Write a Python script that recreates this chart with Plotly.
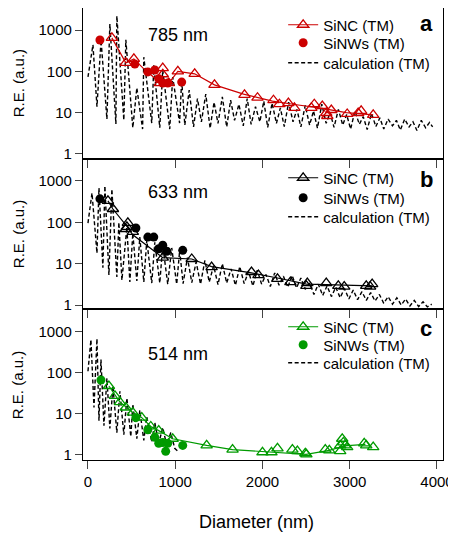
import plotly.graph_objects as go
from plotly.subplots import make_subplots

FONT = "Liberation Sans, Arial, Helvetica, sans-serif"
RED = "#cc0000"
GREEN = "#009a00"
BLACK = "#000000"

# ---- panel a: 785 nm ----
calc_a_x = [0, 57, 103, 150, 217, 251, 320, 331, 411, 434, 514, 560, 626, 640, 731, 754,
            823, 857, 937, 971, 1050, 1074,
            1110, 1160, 1210, 1255, 1300, 1350, 1400, 1445, 1490, 1540, 1590, 1635, 1680,
            1730, 1780, 1825, 1870, 1920, 1970, 2015, 2060, 2110, 2160, 2205, 2250, 2300,
            2350, 2395, 2440, 2490, 2540, 2585, 2630, 2680, 2730, 2775, 2820, 2870, 2920,
            2965, 3010, 3060, 3110, 3155, 3200, 3250, 3300, 3345, 3390, 3440, 3490, 3535,
            3580, 3630, 3680, 3725, 3770, 3820, 3870, 3915, 3950]
calc_a_y = [73, 440, 14, 570, 7, 1400, 5.3, 2200, 6.6, 580, 4.3, 40, 4, 220, 5.6, 140,
            4.3, 108, 4, 73, 5.6, 62,
            5, 35, 4.5, 22, 6, 28, 4.2, 18, 5.5, 24, 4.5, 20, 6.5,
            16, 4.8, 22, 5.2, 14, 6, 19, 4.4, 17, 5.5, 13, 4.6, 18,
            6, 12, 4.5, 15, 5, 11, 4.2, 16, 5.5, 10, 4.4, 12, 5,
            9, 4, 11, 5.2, 8, 3.9, 9.5, 4.6, 7.5, 4, 7, 4.8, 6.5,
            3.8, 7, 4.5, 6, 3.7, 6.5, 4.3, 5.8, 4.5]
sinc_a_x = [274, 434, 526, 823, 857, 857, 926, 1030, 1223, 1450, 1794, 1943, 2126, 2194,
            2297, 2366, 2560, 2594, 2686, 2731, 2743, 2789, 2971, 3097, 3131, 3269]
sinc_a_y = [645, 160, 200, 52, 120, 85, 52, 100, 87, 47, 27, 23, 20, 16,
            17, 13, 13, 16, 14.5, 9.8, 8.3, 11.6, 9.3, 9.8, 11, 8.8]
trend_a_x = [274, 434, 526, 640, 760, 823, 926, 1030, 1223, 1450, 1783, 2114, 2389, 2651,
             2960, 3269]
trend_a_y = [645, 160, 200, 115, 70, 52, 52, 100, 87, 47, 28, 19, 15.5, 13, 10, 8.8]
sinw_a_x = [137, 537, 686, 766, 811, 857, 914, 1074]
sinw_a_y = [575, 150, 97, 108, 66, 52, 52, 55]

# ---- panel b: 633 nm ----
calc_b_x = [0, 46, 103, 126, 171, 194, 240, 274, 331, 354, 389, 446, 480, 514, 560, 594,
            640, 674, 731, 766, 823, 857, 914, 960, 1017, 1051,
            1090, 1140, 1190, 1240, 1290, 1340, 1390, 1440, 1490, 1540, 1590, 1640, 1690,
            1740, 1790, 1840, 1890, 1940, 1990, 2040, 2090, 2140, 2190, 2240, 2290, 2340,
            2390, 2440, 2490, 2540, 2590, 2640, 2690, 2740, 2790, 2840, 2890, 2940, 2990,
            3040, 3090, 3140, 3190, 3240, 3290, 3340, 3390, 3440, 3490, 3540, 3590, 3640,
            3690, 3740, 3790, 3840, 3890, 3940]
calc_b_y = [96, 510, 18, 680, 8, 760, 5.3, 640, 4.8, 100, 4, 77, 3.6, 55, 3.8, 44,
            3.6, 37, 3.4, 33, 3.4, 28, 3.2, 24, 3.2, 21,
            3.3, 14, 3.5, 11, 3.2, 12, 3.6, 9, 3.1, 10, 3.4, 7.5, 3,
            8.5, 3.3, 6.5, 2.9, 7, 3.2, 5.5, 2.8, 6, 3, 5, 2.7, 5.2,
            2.6, 4.5, 2.4, 3.4, 1.8, 3.2, 1.7, 2.9, 1.6, 2.7, 1.5, 2.5, 1.4,
            2.3, 1.35, 2.1, 1.3, 2.0, 1.25, 1.8, 1.1, 1.6, 1.05, 1.5, 1.0, 1.4,
            0.95, 1.3, 0.92, 1.2, 0.9, 1.05]
sinc_b_x = [229, 286, 434, 446, 457, 514, 857, 1189, 1417, 1874, 1954, 2172, 2320, 2503,
            2514, 2731, 2869, 2937, 3189, 3234, 3257]
sinc_b_y = [330, 210, 69, 78, 97, 59, 14, 13, 8.3, 6.3, 5.3, 4.3, 3.6, 2.9,
            3.4, 3.4, 2.9, 2.8, 2.9, 2.8, 3.2]
trend_b_x = [229, 286, 446, 514, 857, 1189, 1417, 1874, 2172, 2503, 2731, 3257]
trend_b_y = [330, 210, 80, 50, 14, 13, 8.5, 6, 4.5, 3.2, 3.1, 2.9]
sinw_b_x = [137, 549, 686, 754, 811, 857, 903, 1086]
sinw_b_y = [370, 73, 44, 44, 23, 28, 20, 21]

# ---- panel c: 514 nm ----
calc_c_x = [0, 34, 69, 103, 126, 149, 183, 217, 251, 286, 331, 366, 411, 446, 491, 514,
            560, 594, 640, 674, 731, 766, 811, 857, 903, 949, 994, 1029]
calc_c_y = [108, 640, 14, 680, 6.6, 210, 5, 73, 4.3, 47, 3.4, 35, 3, 24, 2.7, 17,
            2.4, 12, 2.2, 8.3, 2, 6, 1.85, 4.5, 1.65, 3.4, 1.4, 1.2]
sinc_c_x = [240, 309, 366, 434, 514, 617, 720, 811, 971, 1360, 1657, 2000, 2103, 2172,
            2343, 2400, 2491, 2503, 2720, 2766, 2891, 2891, 2914, 2926, 2949, 2971, 3166,
            3189, 3269]
sinc_c_y = [47, 27, 19, 14, 10.5, 7.9, 4.8, 3.8, 2.4, 1.65, 1.3, 1.12, 1.12, 1.4,
            1.3, 1.2, 1.06, 1.0, 1.3, 1.25, 1.65, 1.2, 2.4, 1.95, 1.65, 1.5, 1.85,
            1.65, 1.5]
trend_c_x = [240, 366, 514, 617, 720, 811, 971, 1360, 1657, 2000, 2500, 2766, 2937, 3180]
trend_c_y = [47, 19, 10.5, 7.9, 4.8, 3.8, 2.4, 1.65, 1.3, 1.15, 1.0, 1.25, 1.6, 1.75]
sinw_c_x = [149, 549, 686, 766, 811, 857, 891, 914, 1086]
sinw_c_y = [66, 7.9, 4, 2.6, 1.85, 1.95, 1.18, 1.85, 1.65]

panels = [
    ("785 nm", "a", RED, calc_a_x, calc_a_y, sinc_a_x, sinc_a_y, trend_a_x, trend_a_y, sinw_a_x, sinw_a_y),
    ("633 nm", "b", BLACK, calc_b_x, calc_b_y, sinc_b_x, sinc_b_y, trend_b_x, trend_b_y, sinw_b_x, sinw_b_y),
    ("514 nm", "c", GREEN, calc_c_x, calc_c_y, sinc_c_x, sinc_c_y, trend_c_x, trend_c_y, sinw_c_x, sinw_c_y),
]

fig = make_subplots(rows=3, cols=1, shared_xaxes=True, vertical_spacing=0)

# the page body has an 8px margin, so the figure is a little smaller than the window
domains = [[2 / 3, 1], [1 / 3, 2 / 3], [0, 1 / 3]]
y_ranges = [[-0.114, 3.533], [-0.104, 3.54], [-0.14, 3.55]]
# one small legend per entry so the rows sit where the reference has them
legend_rows = [[0.9624, 0.9226, 0.8783], [0.6239, 0.5796, 0.5376], [0.2942, 0.2544, 0.2146]]
label_y = [0.940, 0.593, 0.2345]
letter_y = [0.9668, 0.6195, 0.291]
title_y = [0.834, 0.50, 0.166]


def legend_name(n):
    return "legend" if n == 1 else f"legend{n}"


def note(text, x, y, size, angle=0):
    fig.add_annotation(text=text, x=x, y=y, xref="paper", yref="paper",
                       xanchor="center", yanchor="middle", textangle=angle,
                       showarrow=False, font=dict(size=size, color=BLACK))


for i, (wl, letter, col, cx, cy, sx, sy, tx, ty, wx, wy) in enumerate(panels):
    row = i + 1
    l_sinc, l_sinw, l_calc = (legend_name(3 * i + k) for k in (1, 2, 3))

    # calculation (dashed)
    fig.add_trace(go.Scatter(x=cx, y=cy, mode="lines", name="calculation (TM)",
                             line=dict(color=BLACK, width=1.4, dash="4px,2.5px"),
                             legend=l_calc, hoverinfo="skip"), row=row, col=1)
    # SiNC trend line
    fig.add_trace(go.Scatter(x=tx, y=ty, mode="lines", line=dict(color=col, width=1.2),
                             showlegend=False, hoverinfo="skip"), row=row, col=1)
    # SiNC points
    fig.add_trace(go.Scatter(x=sx, y=sy, mode="markers",
                             marker=dict(symbol="triangle-up-open", size=10, color=col,
                                         line=dict(width=1.3, color=col)),
                             showlegend=False), row=row, col=1)
    # SiNWs points
    fig.add_trace(go.Scatter(x=wx, y=wy, mode="markers", name="SiNWs (TM)",
                             marker=dict(symbol="circle", size=9, color=col),
                             legend=l_sinw), row=row, col=1)
    # legend entry for SiNC (line + triangle)
    fig.add_trace(go.Scatter(x=[None], y=[None], mode="lines+markers", name="SiNC (TM)",
                             line=dict(color=col, width=1.2),
                             marker=dict(symbol="triangle-up-open", size=10, color=col,
                                         line=dict(width=1.3, color=col)),
                             legend=l_sinc), row=row, col=1)

    fig.update_yaxes(type="log", range=y_ranges[i], tickvals=[1, 10, 100, 1000],
                     ticktext=["1", "10", "100", "1000"], ticks="outside", ticklen=7,
                     tickwidth=1.2, showline=True, linecolor=BLACK, linewidth=1.3,
                     mirror=True, showgrid=False, zeroline=False, automargin=False,
                     domain=domains[i],
                     tickfont=dict(size=15, color=BLACK), row=row, col=1)
    fig.update_xaxes(range=[-57, 4069], tickvals=[0, 1000, 2000, 3000, 4000],
                     ticks="outside", ticklen=8, tickwidth=1.2, showline=True,
                     linecolor=BLACK, linewidth=1.3, mirror=True, showgrid=False,
                     zeroline=False, showticklabels=(row == 3), automargin=False,
                     tickfont=dict(size=15, color=BLACK), row=row, col=1)

    for name, ly in zip((l_sinc, l_sinw, l_calc), legend_rows[i]):
        fig.update_layout({name: dict(x=0.556, y=ly, xanchor="left", yanchor="middle",
                                      bgcolor="rgba(0,0,0,0)", borderwidth=0,
                                      font=dict(size=15, color=BLACK, family=FONT),
                                      itemwidth=30)})

    note(wl, 0.264, label_y[i], 18)
    note(f"<b>{letter}</b>", 0.953, letter_y[i], 22)
    note("R.E. (a.u.)", -0.18, title_y[i], 15, angle=-90)

note("Diameter (nm)", 0.483, -0.137, 18)

fig.update_layout(
    width=448, height=525,
    margin=dict(l=75, r=13, t=0, b=73),
    paper_bgcolor="white", plot_bgcolor="white",
    font=dict(family=FONT, color=BLACK),
)

fig.write_html("out.html")
